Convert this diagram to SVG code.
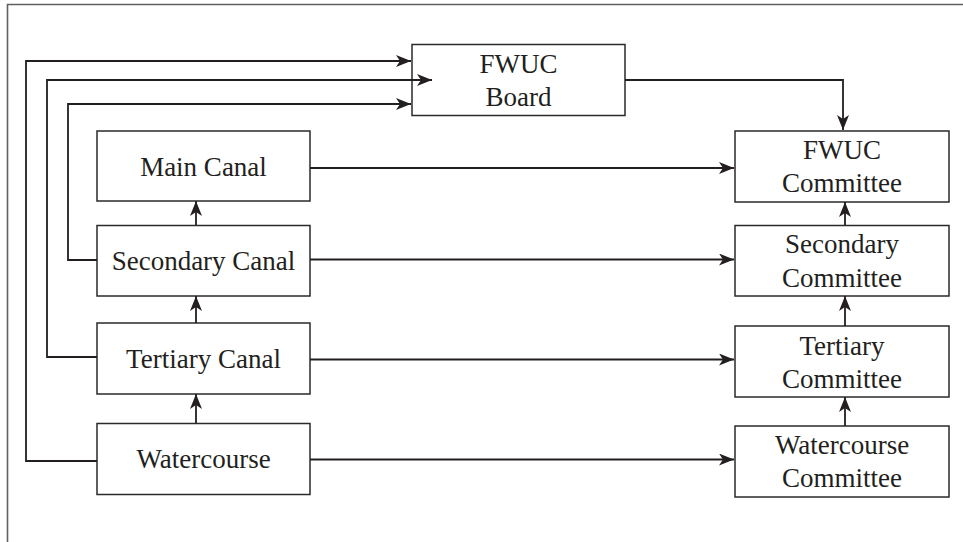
<svg xmlns="http://www.w3.org/2000/svg" width="963" height="542" viewBox="0 0 963 542">
  <style>
    .frame { fill: none; stroke: #606060; stroke-width: 1.6; }
    .box { fill: #ffffff; stroke: #2a2a2a; stroke-width: 1.5; }
    .label { font-family: 'Liberation Serif', 'Times New Roman', serif; font-size: 27px; fill: #231f20; text-anchor: middle; }
    .wire { fill: none; stroke: #231f20; stroke-width: 1.8; }
    .arrow { marker-end: url(#head); }
  </style>
  <defs>
    <marker id="head" markerUnits="userSpaceOnUse" markerWidth="16" markerHeight="12" viewBox="0 0 16 12" refX="15" refY="6" orient="auto">
      <path d="M0,0 L15,6 L0,12 L4,6 Z" fill="#231f20"/>
    </marker>
  </defs>

  <rect width="963" height="542" fill="#ffffff"/>
  <!-- outer frame: left and top edges -->
  <path class="frame" d="M7.5,542 V4.5 H963"/>

  <g id="fwuc-board">
    <rect class="box" x="412" y="44.5" width="213" height="71"/>
    <text class="label" x="518.5" y="73">FWUC</text>
    <text class="label" x="518.5" y="106">Board</text>
  </g>

  <g id="main-canal">
    <rect class="box" x="97" y="131" width="213" height="70"/>
    <text class="label" x="203.5" y="176">Main Canal</text>
  </g>
  <g id="secondary-canal">
    <rect class="box" x="97" y="225.5" width="213" height="70.5"/>
    <text class="label" x="203.5" y="270">Secondary Canal</text>
  </g>
  <g id="tertiary-canal">
    <rect class="box" x="97" y="323" width="213" height="71"/>
    <text class="label" x="203.5" y="367.5">Tertiary Canal</text>
  </g>
  <g id="watercourse">
    <rect class="box" x="97" y="423.5" width="213" height="71"/>
    <text class="label" x="203.5" y="468">Watercourse</text>
  </g>

  <g id="fwuc-committee">
    <rect class="box" x="735" y="131" width="214" height="71"/>
    <text class="label" x="842" y="159">FWUC</text>
    <text class="label" x="842" y="191.5">Committee</text>
  </g>
  <g id="secondary-committee">
    <rect class="box" x="735" y="225.5" width="214" height="70.5"/>
    <text class="label" x="842" y="253">Secondary</text>
    <text class="label" x="842" y="286.5">Committee</text>
  </g>
  <g id="tertiary-committee">
    <rect class="box" x="735" y="326" width="214" height="71"/>
    <text class="label" x="842" y="354.5">Tertiary</text>
    <text class="label" x="842" y="387.5">Committee</text>
  </g>
  <g id="watercourse-committee">
    <rect class="box" x="735" y="426" width="214" height="71"/>
    <text class="label" x="842" y="454">Watercourse</text>
    <text class="label" x="842" y="486.5">Committee</text>
  </g>

  <!-- connectors, drawn over the boxes -->
  <g id="connectors">
    <!-- feedback lines from canals to the board -->
    <path class="wire arrow" d="M97,461 H26 V61 H411"/>
    <path class="wire arrow" d="M97,357 H47 V80 H432"/>
    <path class="wire arrow" d="M97,260 H68 V104 H411"/>
    <!-- board to FWUC committee -->
    <path class="wire arrow" d="M625,80 H843 V130"/>
    <!-- canal chain -->
    <path class="wire arrow" d="M196,225 V201"/>
    <path class="wire arrow" d="M196,323 V296"/>
    <path class="wire arrow" d="M196,423 V394"/>
    <!-- committee chain -->
    <path class="wire arrow" d="M845,225 V202"/>
    <path class="wire arrow" d="M845,326 V296"/>
    <path class="wire arrow" d="M845,426 V397"/>
    <!-- canals to committees -->
    <path class="wire arrow" d="M310,168 H734"/>
    <path class="wire arrow" d="M310,259.5 H734"/>
    <path class="wire arrow" d="M310,359.5 H734"/>
    <path class="wire arrow" d="M310,459.5 H734"/>
  </g>
</svg>
